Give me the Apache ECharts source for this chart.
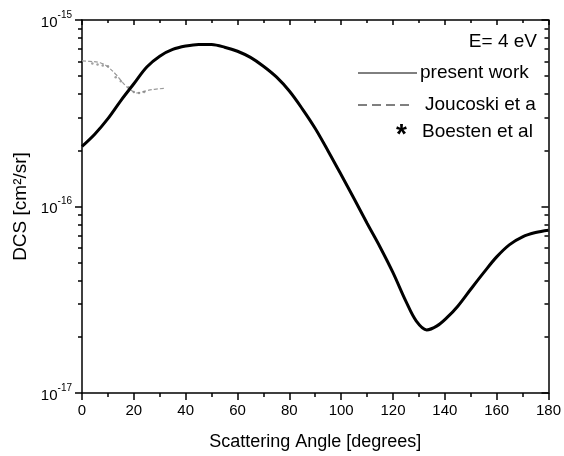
<!DOCTYPE html>
<html>
<head>
<meta charset="utf-8">
<script src="https://cdn.jsdelivr.net/npm/echarts@6/dist/echarts.min.js"></script>
<style>html,body{margin:0;padding:0;background:#fff;}#c{width:564px;height:456px;}</style>
</head>
<body>
<div id="c"></div>
<script>
// Present work (solid)
const presentAngles = [0,5,10,15,20,25,30,35,40,45,50,55,60,65,70,75,80,85,90,95,100,105,110,115,120,125,129,133,137,141,145,150,155,160,165,170,175,180];
const presentDCS = [2.1e-16,2.45e-16,2.96e-16,3.7e-16,4.55e-16,5.6e-16,6.4e-16,6.95e-16,7.25e-16,7.4e-16,7.38e-16,7.15e-16,6.8e-16,6.3e-16,5.65e-16,4.95e-16,4.16e-16,3.34e-16,2.62e-16,1.98e-16,1.48e-16,1.1e-16,8.13e-17,6.07e-17,4.42e-17,3.1e-17,2.43e-17,2.18e-17,2.29e-17,2.55e-17,2.92e-17,3.6e-17,4.42e-17,5.37e-17,6.25e-17,6.88e-17,7.25e-17,7.46e-17];
// Joucoski et al (dashed)
const joucoskiAngles = [0,3,7,10,13,15,17,19,21,23,25,28,32];
const joucoskiDCS = [6.03e-16,6.0e-16,5.9e-16,5.6e-16,5.12e-16,4.75e-16,4.42e-16,4.2e-16,4.06e-16,4.1e-16,4.18e-16,4.25e-16,4.3e-16];
// Boesten et al (markers)
const boestenAngles = [4,6,8,10,13,15,18,20,22,24];
const boestenDCS = [5.85e-16,5.78e-16,5.71e-16,5.65e-16,4.93e-16,4.7e-16,4.36e-16,4.11e-16,4.06e-16,4.11e-16];
// Axis ticks
const xTicks = [0,20,40,60,80,100,120,140,160,180];
const yMajor = [1e-17,1e-16,1e-15];
const yMinor = [2e-17,3e-17,4e-17,5e-17,6e-17,7e-17,8e-17,9e-17,2e-16,3e-16,4e-16,5e-16,6e-16,7e-16,8e-16,9e-16];
const legendTexts = ['E= 4 eV','present work','Joucoski et a','Boesten et al'];

const zip = (a,b)=>a.map((v,i)=>[v,b[i]]);
const FONT = 'Liberation Sans, Arial, sans-serif';
const chart = echarts.init(document.getElementById('c'));
const lineStyle = {color:'#000', width:1.5};
const common = {min:1e-17, max:1e-15, logBase:10, splitLine:{show:false}};
const opt = {
  animation:false,
  backgroundColor:'#fff',
  grid:{left:82, right:14, top:20, bottom:58},
  xAxis:[
    {type:'value', position:'bottom', min:0, max:180, interval:20,
     axisLine:{show:true, onZero:false, lineStyle}, axisTick:{show:true, inside:false, length:7, lineStyle},
     minorTick:{show:true, splitNumber:2, length:4, lineStyle},
     axisLabel:{color:'#000', fontFamily:FONT, fontSize:15, margin:10, customValues:xTicks},
     splitLine:{show:false},
     name:'Scattering Angle [degrees]', nameLocation:'middle', nameGap:40,
     nameTextStyle:{color:'#000', fontFamily:FONT, fontSize:18}},
    {type:'value', position:'top', min:0, max:180, interval:20,
     axisLine:{show:true, onZero:false, lineStyle}, axisTick:{show:true, inside:true, length:5, lineStyle},
     minorTick:{show:true, splitNumber:2, length:3, lineStyle},
     axisLabel:{show:false}, splitLine:{show:false}}
  ],
  yAxis:[
    Object.assign({type:'log', position:'left',
     axisLine:{show:true, onZero:false, lineStyle}, axisTick:{show:true, inside:false, length:7, lineStyle, customValues:yMajor},
     axisLabel:{show:true, margin:10, customValues:yMajor,
       formatter:v=>'{b|10}{s|'+Math.round(Math.log10(v))+'}',
       rich:{b:{fontSize:15, fontFamily:FONT, color:'#000', verticalAlign:'bottom', lineHeight:20},
             s:{fontSize:10, fontFamily:FONT, color:'#000', verticalAlign:'top', lineHeight:20}}},
     name:'DCS [cm²/sr]', nameLocation:'middle', nameGap:52,
     nameTextStyle:{color:'#000', fontFamily:FONT, fontSize:19}}, common),
    Object.assign({type:'log', position:'right',
     axisLine:{show:true, onZero:false, lineStyle}, axisTick:{show:true, inside:true, length:7, lineStyle, customValues:yMajor},
     axisLabel:{show:false}}, common),
    Object.assign({type:'log', position:'left', offset:0,
     axisLine:{show:false, onZero:false}, axisTick:{show:true, inside:false, length:4, lineStyle, customValues:yMinor},
     axisLabel:{show:false}}, common),
    Object.assign({type:'log', position:'right', offset:0,
     axisLine:{show:false, onZero:false}, axisTick:{show:true, inside:true, length:4, lineStyle, customValues:yMinor},
     axisLabel:{show:false}}, common)
  ],
  series:[
    {type:'line', name:'present work', data:zip(presentAngles,presentDCS), smooth:0.35, symbol:'none',
     lineStyle:{color:'#000', width:3}, z:5},
    {type:'line', name:'Joucoski et al', data:zip(joucoskiAngles,joucoskiDCS), smooth:0.4, symbol:'none',
     lineStyle:{color:'#9a9a9a', width:1.2, type:[4,2]}, z:3},
    {type:'scatter', name:'Boesten et al', data:zip(boestenAngles,boestenDCS), symbol:'circle', symbolSize:2.5,
     itemStyle:{color:'#888'}, z:4}
  ],
  graphic:[
    {type:'text', right:27, top:32, style:{text:legendTexts[0], font:'19px '+FONT, fill:'#000'}},
    {type:'line', shape:{x1:358, y1:73, x2:417, y2:73}, style:{stroke:'#000', lineWidth:1}},
    {type:'text', left:420, top:63, style:{text:legendTexts[1], font:'19px '+FONT, fill:'#000'}},
    {type:'line', shape:{x1:358, y1:105, x2:413, y2:105}, style:{stroke:'#000', lineWidth:1, lineDash:[9,5]}},
    {type:'text', left:425, top:95, style:{text:legendTexts[2], font:'19px '+FONT, fill:'#000'}},
    {type:'text', left:396, top:121, style:{text:'*', font:'bold 28px '+FONT, fill:'#000'}},
    {type:'text', left:422, top:122, style:{text:legendTexts[3], font:'19px '+FONT, fill:'#000'}}
  ]
};
chart.setOption(opt);
</script>
</body>
</html>
